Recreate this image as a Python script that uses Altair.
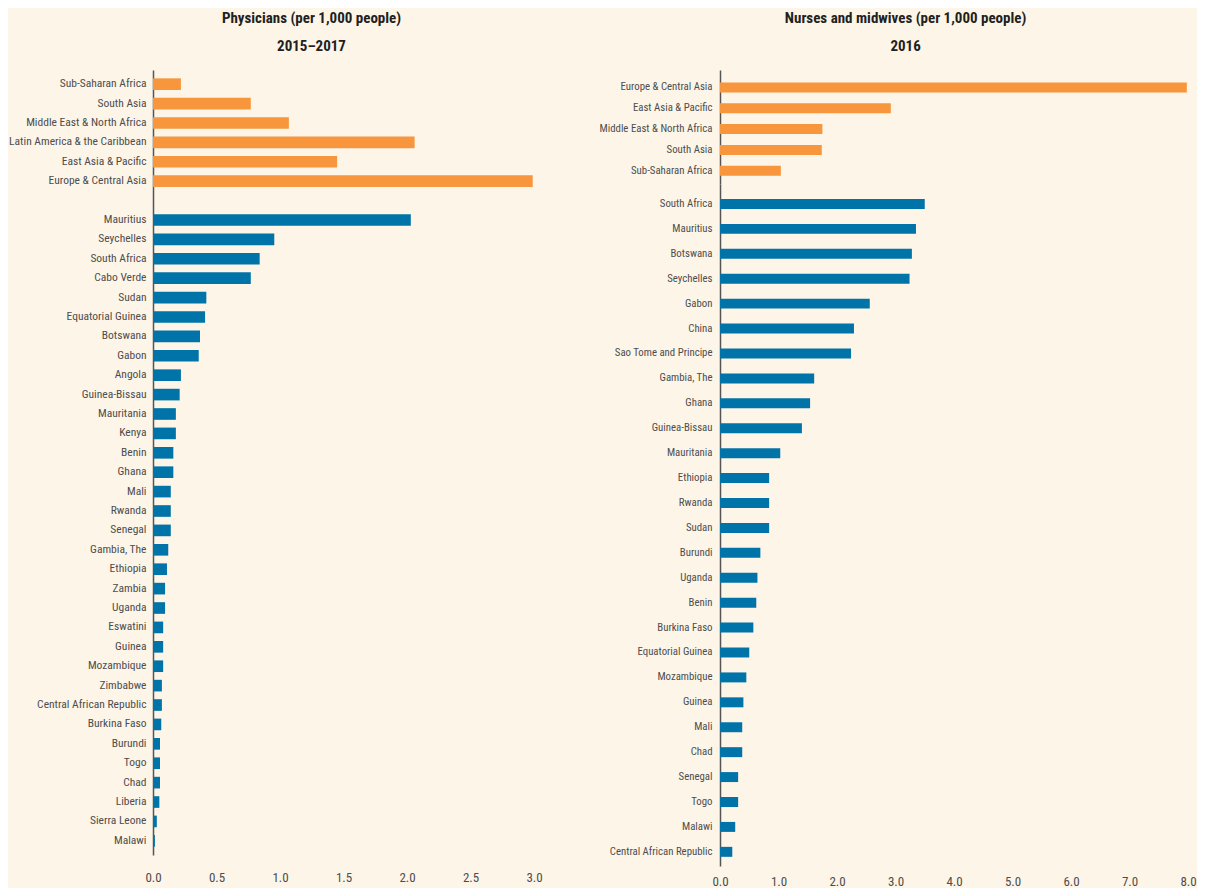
import altair as alt
import pandas as pd

ORANGE = "#F7963C"
BLUE = "#0073A8"
BG = "#FDF5E8"
FONT = "Roboto Condensed, DejaVu Sans Condensed, sans-serif"

# ---- Physicians (per 1,000 people), 2015-2017 ----
phys_regions = ["Sub-Saharan Africa", "South Asia", "Middle East & North Africa",
                "Latin America & the Caribbean", "East Asia & Pacific", "Europe & Central Asia"]
phys_region_vals = [0.22, 0.77, 1.07, 2.06, 1.45, 2.99]

phys_countries = ["Mauritius", "Seychelles", "South Africa", "Cabo Verde", "Sudan",
                  "Equatorial Guinea", "Botswana", "Gabon", "Angola", "Guinea-Bissau",
                  "Mauritania", "Kenya", "Benin", "Ghana", "Mali", "Rwanda", "Senegal",
                  "Gambia, The", "Ethiopia", "Zambia", "Uganda", "Eswatini", "Guinea",
                  "Mozambique", "Zimbabwe", "Central African Republic", "Burkina Faso",
                  "Burundi", "Togo", "Chad", "Liberia", "Sierra Leone", "Malawi"]
phys_country_vals = [2.03, 0.955, 0.84, 0.77, 0.42, 0.41, 0.37, 0.36, 0.22, 0.21,
                     0.18, 0.18, 0.16, 0.16, 0.14, 0.14, 0.14, 0.12, 0.11, 0.095,
                     0.095, 0.08, 0.08, 0.08, 0.07, 0.07, 0.065, 0.055, 0.055, 0.055,
                     0.05, 0.03, 0.015]

# ---- Nurses and midwives (per 1,000 people), 2016 ----
nurse_regions = ["Europe & Central Asia", "East Asia & Pacific", "Middle East & North Africa",
                 "South Asia", "Sub-Saharan Africa"]
nurse_region_vals = [7.98, 2.92, 1.75, 1.74, 1.04]

nurse_countries = ["South Africa", "Mauritius", "Botswana", "Seychelles", "Gabon", "China",
                   "Sao Tome and Principe", "Gambia, The", "Ghana", "Guinea-Bissau",
                   "Mauritania", "Ethiopia", "Rwanda", "Sudan", "Burundi", "Uganda", "Benin",
                   "Burkina Faso", "Equatorial Guinea", "Mozambique", "Guinea", "Mali", "Chad",
                   "Senegal", "Togo", "Malawi", "Central African Republic"]
nurse_country_vals = [3.50, 3.35, 3.28, 3.24, 2.56, 2.29, 2.24, 1.61, 1.54, 1.40, 1.03,
                      0.84, 0.84, 0.84, 0.69, 0.64, 0.62, 0.57, 0.50, 0.45, 0.40, 0.38,
                      0.38, 0.31, 0.31, 0.26, 0.21]

phys_ticks = [0, 0.5, 1.0, 1.5, 2.0, 2.5, 3.0]
nurse_ticks = [0, 1, 2, 3, 4, 5, 6, 7, 8]

BLANK = " "

left_df = pd.DataFrame({
    "name": phys_regions + phys_countries,
    "value": phys_region_vals + phys_country_vals,
    "group": ["Region"] * len(phys_regions) + ["Country"] * len(phys_countries),
})
left_order = phys_regions + [BLANK] + phys_countries

title_kw = dict(fontSize=15, subtitleFontSize=15, subtitleFontWeight="bold",
                subtitleColor="#231f20", subtitleFont=FONT, subtitlePadding=12.5,
                offset=16.5, anchor="middle")

left = alt.Chart(left_df).mark_bar().encode(
    y=alt.Y("name:N", scale=alt.Scale(domain=left_order, paddingInner=0.4, paddingOuter=0.43),
            axis=alt.Axis(title=None, labelPadding=7, labelFontSize=11.5)),
    x=alt.X("value:Q", scale=alt.Scale(domain=[0, 3], nice=False, zero=True),
            axis=alt.Axis(title=None, values=phys_ticks, format=".1f", labelPadding=16,
                          labelFontSize=13, labelFlush=False)),
    color=alt.Color("group:N", scale=alt.Scale(domain=["Region", "Country"], range=[ORANGE, BLUE]),
                    legend=None),
).properties(
    width=381, height=785,
    title=alt.TitleParams("Physicians (per 1,000 people)", subtitle="2015\u20132017",
                          dx=-32, **title_kw),
)

rr_df = pd.DataFrame({"name": nurse_regions, "value": nurse_region_vals})
rc_df = pd.DataFrame({"name": nurse_countries, "value": nurse_country_vals})

right_regions = alt.Chart(rr_df).mark_bar(color=ORANGE).encode(
    y=alt.Y("name:N", scale=alt.Scale(domain=nurse_regions, paddingInner=0.52,
                                       paddingOuter=0.5, align=0.6),
            axis=alt.Axis(title=None, labelPadding=8, labelFontSize=10.8)),
    x=alt.X("value:Q", scale=alt.Scale(domain=[0, 8], nice=False), axis=None),
).properties(width=468, height=114)

right_countries = alt.Chart(rc_df).mark_bar(color=BLUE).encode(
    y=alt.Y("name:N", scale=alt.Scale(domain=nurse_countries, paddingInner=0.6,
                                       paddingOuter=0.485, align=0.62),
            axis=alt.Axis(title=None, labelPadding=8, labelFontSize=10.8)),
    x=alt.X("value:Q", scale=alt.Scale(domain=[0, 8], nice=False),
            axis=alt.Axis(title=None, values=nurse_ticks, format=".1f", labelPadding=9,
                          labelFontSize=13, labelFlush=False)),
).properties(width=468, height=682)

right = alt.vconcat(right_regions, right_countries, spacing=0).resolve_scale(
    y="independent"
).properties(
    title=alt.TitleParams("Nurses and midwives (per 1,000 people)", subtitle="2016",
                          dx=8, **title_kw)
)

chart = alt.hconcat(left, right, spacing=56).properties(
    padding={"left": 0, "top": 3, "right": 0, "bottom": 0}, background=BG
).configure_view(
    stroke=None
).configure_axis(
    labelFont=FONT, labelColor="#4d4d4d",
    grid=False, ticks=False,
).configure_axisY(
    domain=True, domainColor="#555555", domainWidth=1.5,
).configure_axisX(
    domain=False,
).configure_title(
    font=FONT, fontWeight="bold", color="#231f20",
)

chart.save("out.html", embed_options={"renderer": "svg", "actions": False})
